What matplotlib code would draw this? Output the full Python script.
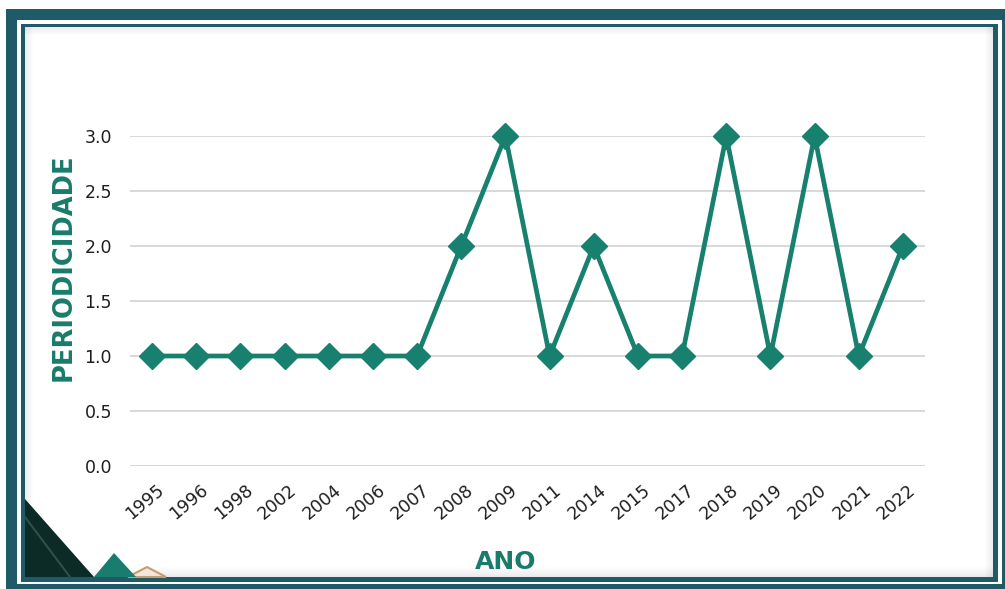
import matplotlib
matplotlib.use("Agg")
import matplotlib.pyplot as plt
from matplotlib.patches import Rectangle, Polygon
from matplotlib.transforms import ScaledTranslation

# Data
anos = ["1995", "1996", "1998", "2002", "2004", "2006", "2007", "2008", "2009",
        "2011", "2014", "2015", "2017", "2018", "2019", "2020", "2021", "2022"]
periodicidade = [1, 1, 1, 1, 1, 1, 1, 2, 3, 1, 2, 1, 1, 3, 1, 3, 1, 2]
y_ticks = [0.0, 0.5, 1.0, 1.5, 2.0, 2.5, 3.0]

W, H = 1005, 589
TEAL_FRAME = "#1f5a69"
LINE_COLOR = "#18806e"
LABEL_COLOR = "#1a7b6b"
TEXT_DARK = "#1e1e1e"

fig = plt.figure(figsize=(W / 100, H / 100), dpi=100)
fig.patch.set_facecolor("white")

# Background frame drawn in pixel coordinates
bg = fig.add_axes([0, 0, 1, 1], zorder=0)
bg.set_xlim(0, W)
bg.set_ylim(H, 0)
bg.axis("off")

def rect(x0, y0, x1, y1, color, alpha=1.0, z=1):
    bg.add_patch(Rectangle((x0, y0), x1 - x0, y1 - y0, facecolor=color,
                           edgecolor="none", alpha=alpha, zorder=z))

rect(6, 9, W, H, TEAL_FRAME, z=1)
rect(16.5, 19.5, 1001.5, 583.5, "white", z=2)
rect(20.5, 23.5, 998, 581.5, TEAL_FRAME, z=3)
rect(25, 27, 993, 577, "white", z=4)

# Inner shadow along the panel edges
n = 8
for i in range(n):
    a = 0.10 * (1 - i / n)
    rect(25, 27 + i, 993, 28 + i, "#555555", alpha=a, z=5)          # top
    rect(25 + i, 27, 26 + i, 577, "#555555", alpha=a, z=5)          # left
    rect(992 - i, 27, 993 - i, 577, "#555555", alpha=a, z=5)        # right
for i in range(10):
    a = 0.12 * (1 - i / 10)
    rect(25, 576 - i, 993, 577 - i, "#555555", alpha=a, z=5)        # bottom

# Corner ornaments
bg.add_patch(Polygon([(25, 499), (25, 577), (94, 577)], closed=True,
                     facecolor="#0c2a26", edgecolor="none", zorder=6))
bg.plot([25, 70], [517, 577], color="#2f4f4a", lw=1.5, zorder=7)
bg.add_patch(Polygon([(128, 577), (147, 567), (166, 577)], closed=True,
                     facecolor="#f3e7da", edgecolor="#c79d70", lw=1.5, zorder=6))
bg.add_patch(Polygon([(94, 577), (114, 553), (136, 577)], closed=True,
                     facecolor="#187d6c", edgecolor="none", zorder=7))

# Chart axes
x_left, x_right = 130, 925
y_zero, y_three = 466, 136
ax = fig.add_axes([x_left / W, 1 - y_zero / H, (x_right - x_left) / W,
                   (y_zero - y_three) / H], zorder=2)
ax.patch.set_alpha(0)

x = list(range(len(anos)))
ax.plot(x, periodicidade, color=LINE_COLOR, lw=3.4, marker="D",
        markersize=13.5, markerfacecolor=LINE_COLOR, markeredgecolor=LINE_COLOR,
        clip_on=False, zorder=3)

ax.set_xlim(-0.5, len(anos) - 0.5)
ax.set_ylim(0, 3.0)
ax.tick_params(axis="both", length=0)
ax.tick_params(axis="y", pad=13)
ax.set_yticks(y_ticks)
ax.set_yticklabels([f"{v:.1f}" for v in y_ticks], fontsize=12.5,
                   color=TEXT_DARK, family="DejaVu Sans")
ax.set_xticks(x)
ax.set_xticklabels(anos, rotation=40, ha="right", va="center",
                   rotation_mode="anchor", fontsize=12.5, color=TEXT_DARK,
                   family="DejaVu Sans")
ax.grid(axis="y", color="#d6d6d6", lw=1.3)
ax.grid(axis="x", visible=False)
ax.set_axisbelow(True)
for s in ax.spines.values():
    s.set_visible(False)

# Shift the slanted year labels so their ends sit just right of each tick
offset = ScaledTranslation(10 / 100, -17 / 100, fig.dpi_scale_trans)
for lbl in ax.get_xticklabels():
    lbl.set_transform(lbl.get_transform() + offset)

fig.text(64 / W, 1 - 267 / H, "PERIODICIDADE", rotation=90, ha="center",
         va="center", fontsize=18.5, fontweight="bold", color=LABEL_COLOR,
         family="DejaVu Sans")
fig.text(506 / W, 1 - 562 / H, "ANO", ha="center", va="center", fontsize=18,
         fontweight="bold", color=LABEL_COLOR, family="DejaVu Sans", zorder=10)

fig.savefig("out.png", dpi=100, facecolor="white")
